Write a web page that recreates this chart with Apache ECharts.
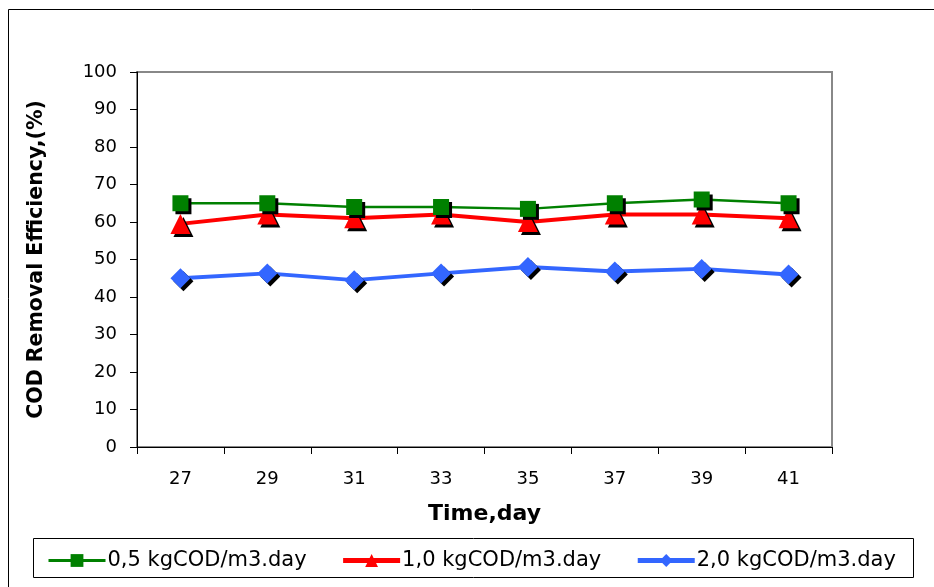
<!DOCTYPE html>
<html>
<head>
<meta charset="utf-8">
<script src="https://cdn.jsdelivr.net/npm/echarts@6/dist/echarts.min.js"></script>
<style>
html,body{margin:0;padding:0;background:#fff;}
#chart{width:934px;height:587px;}
</style>
</head>
<body>
<div id="chart"></div>
<script>
var days = ['27', '29', '31', '33', '35', '37', '39', '41'];
var yTicks = [0, 10, 20, 30, 40, 50, 60, 70, 80, 90, 100];
var seriesNames = ['0,5 kgCOD/m3.day', '1,0 kgCOD/m3.day', '2,0 kgCOD/m3.day'];
var load05 = [65, 65, 64, 64, 63.5, 65, 66, 65];
var load10 = [59.5, 62, 61, 62, 60, 62, 62, 61];
var load20 = [45, 46.3, 44.5, 46.3, 48, 46.8, 47.5, 46];

var FONT = 'DejaVu Sans';
var chart = echarts.init(document.getElementById('chart'), null, {renderer: 'canvas'});
var shadow = {shadowColor: '#000', shadowOffsetX: 3, shadowOffsetY: 3, shadowBlur: 0};

chart.setOption({
  animation: false,
  backgroundColor: '#fff',
  grid: {left: 137, top: 72, right: 102, bottom: 140, show: true, borderColor: '#888', borderWidth: 2, backgroundColor: 'transparent'},
  graphic: [
    {type: 'rect', shape: {x: 8.5, y: 9.5, width: 1000, height: 1000}, style: {fill: 'none', stroke: '#000', lineWidth: 1}, silent: true, z: -10},
    {type: 'rect', shape: {x: 33.5, y: 538.5, width: 880, height: 39}, style: {fill: '#fff', stroke: '#000', lineWidth: 1}, silent: true, z: -5}
  ],
  legend: {
    left: 42, top: 545,
    itemWidth: 57, itemHeight: 16, itemGap: 34,
    textStyle: {fontFamily: FONT, fontSize: 21, color: '#000', padding: [0, 0, 0, -3]},
    data: [
      {name: seriesNames[0], lineStyle: {width: 3}},
      {name: seriesNames[1], lineStyle: {width: 5}},
      {name: seriesNames[2], lineStyle: {width: 5}}
    ]
  },
  xAxis: {
    type: 'category', data: days, boundaryGap: true,
    name: 'Time,day', nameLocation: 'middle', nameGap: 56,
    nameTextStyle: {fontFamily: FONT, fontSize: 22, fontWeight: 'bold', color: '#000'},
    axisLine: {lineStyle: {color: '#000', width: 1}},
    axisTick: {show: true, length: 7, inside: false, lineStyle: {color: '#000'}},
    axisLabel: {fontFamily: FONT, fontSize: 18, color: '#000', margin: 23},
    splitLine: {show: false}
  },
  yAxis: {
    type: 'value', min: yTicks[0], max: yTicks[yTicks.length - 1], interval: 10,
    name: 'COD Removal Efficiency,(%)', nameLocation: 'middle', nameGap: 90, nameRotate: 90,
    nameTextStyle: {fontFamily: FONT, fontSize: 20.5, fontWeight: 'bold', color: '#000'},
    axisLine: {show: true, lineStyle: {color: '#000', width: 1}},
    axisTick: {show: true, length: 7, inside: false, lineStyle: {color: '#000'}},
    axisLabel: {fontFamily: FONT, fontSize: 18, color: '#000', margin: 20},
    splitLine: {show: false}
  },
  series: [
    {name: seriesNames[0], type: 'line', data: load05, symbol: 'rect', symbolSize: 16,
     lineStyle: {color: '#008000', width: 2.5}, itemStyle: Object.assign({color: '#008000'}, shadow), z: 3},
    {name: seriesNames[1], type: 'line', data: load10, symbol: 'triangle', symbolSize: 20,
     lineStyle: {color: '#ff0000', width: 4}, itemStyle: Object.assign({color: '#ff0000'}, shadow), z: 2},
    {name: seriesNames[2], type: 'line', data: load20, symbol: 'diamond', symbolSize: 20,
     lineStyle: {color: '#3366ff', width: 4}, itemStyle: Object.assign({color: '#3366ff'}, shadow), z: 2}
  ]
});
</script>
</body>
</html>
